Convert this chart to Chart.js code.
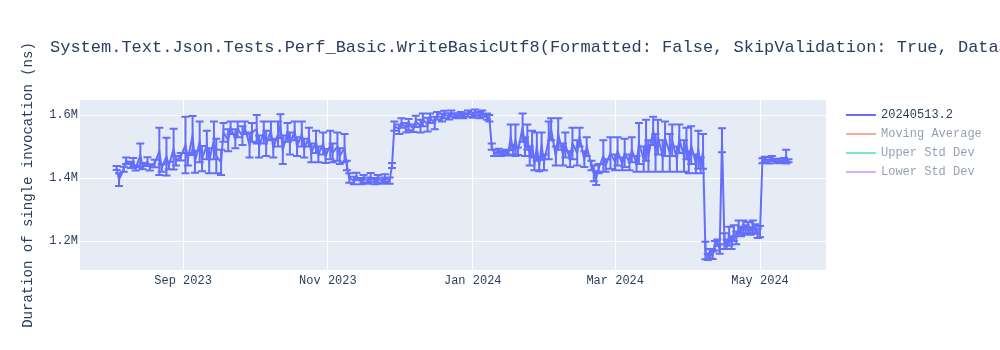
<!DOCTYPE html>
<html>
<head>
<meta charset="utf-8">
<title>WriteBasicUtf8</title>
<script src="https://cdn.jsdelivr.net/npm/chart.js@4.4.1/dist/chart.umd.min.js"></script>
<style>
  html, body { margin: 0; padding: 0; background: #fff; }
  #wrap { width: 1000px; height: 350px; }
</style>
</head>
<body>
<div id="wrap"><canvas id="chart" width="1000" height="350"></canvas></div>
<script>
const chartTitle = 'System.Text.Json.Tests.Perf_Basic.WriteBasicUtf8(Formatted: False, SkipValidation: True, DataSize: 100000)';
const yAxisTitle = 'Duration of single invocation (ns)';
const seriesName = '20240513.2';
const hiddenSeries = ['Moving Average', 'Upper Std Dev', 'Lower Std Dev'];
const hiddenColors = ['rgba(239,85,59,0.5)', 'rgba(0,204,150,0.5)', 'rgba(171,99,250,0.5)'];

// run dates, grouped by month
const dates = [
  // aug 2023
  '2023-08-04','2023-08-05','2023-08-07','2023-08-08','2023-08-10','2023-08-11','2023-08-12','2023-08-14','2023-08-15','2023-08-17',
  '2023-08-18','2023-08-20','2023-08-22','2023-08-23','2023-08-25','2023-08-26','2023-08-28','2023-08-29','2023-08-31',
  // sep
  '2023-09-02','2023-09-03','2023-09-05','2023-09-06','2023-09-08','2023-09-09','2023-09-11','2023-09-12','2023-09-14','2023-09-15',
  '2023-09-17','2023-09-18','2023-09-20','2023-09-21','2023-09-23','2023-09-24','2023-09-26','2023-09-27','2023-09-29','2023-09-30',
  // oct
  '2023-10-02','2023-10-03','2023-10-05','2023-10-06','2023-10-08','2023-10-09','2023-10-11','2023-10-12','2023-10-13','2023-10-15',
  '2023-10-16','2023-10-18','2023-10-19','2023-10-21','2023-10-22','2023-10-24','2023-10-25','2023-10-27','2023-10-28','2023-10-30','2023-10-31',
  // nov
  '2023-11-02','2023-11-03','2023-11-05','2023-11-06','2023-11-08','2023-11-09','2023-11-10','2023-11-12','2023-11-13','2023-11-15',
  '2023-11-16','2023-11-18','2023-11-19','2023-11-21','2023-11-22','2023-11-24','2023-11-25','2023-11-27','2023-11-28','2023-11-29',
  // dec
  '2023-12-01','2023-12-02','2023-12-04','2023-12-05','2023-12-07','2023-12-08','2023-12-10','2023-12-11','2023-12-13','2023-12-14',
  '2023-12-16','2023-12-17','2023-12-19','2023-12-20','2023-12-22','2023-12-23','2023-12-25','2023-12-27','2023-12-28','2023-12-30',
  // jan 2024
  '2024-01-01','2024-01-02','2024-01-04','2024-01-05','2024-01-07','2024-01-08','2024-01-09','2024-01-10','2024-01-12','2024-01-13',
  '2024-01-15','2024-01-16','2024-01-17','2024-01-18','2024-01-19','2024-01-20','2024-01-22','2024-01-23','2024-01-24','2024-01-25',
  '2024-01-26','2024-01-27','2024-01-28','2024-01-29','2024-01-30','2024-01-31',
  // feb
  '2024-02-02','2024-02-03','2024-02-05','2024-02-06','2024-02-08','2024-02-09','2024-02-11','2024-02-12','2024-02-14','2024-02-15',
  '2024-02-17','2024-02-18','2024-02-20','2024-02-21','2024-02-22','2024-02-23','2024-02-25','2024-02-26','2024-02-28',
  // mar
  '2024-03-01','2024-03-02','2024-03-04','2024-03-05','2024-03-07','2024-03-08','2024-03-10','2024-03-11','2024-03-13','2024-03-14',
  '2024-03-15','2024-03-17','2024-03-18','2024-03-19','2024-03-21','2024-03-22','2024-03-24','2024-03-25','2024-03-27','2024-03-28',
  '2024-03-30','2024-03-31',
  // apr
  '2024-04-01','2024-04-02','2024-04-04','2024-04-05','2024-04-06','2024-04-07','2024-04-08','2024-04-09','2024-04-10','2024-04-11',
  '2024-04-12','2024-04-13','2024-04-14','2024-04-15','2024-04-16','2024-04-17','2024-04-18','2024-04-19','2024-04-20','2024-04-21',
  '2024-04-22','2024-04-23','2024-04-24','2024-04-25','2024-04-26','2024-04-27','2024-04-28','2024-04-29','2024-04-30',
  // may
  '2024-05-01','2024-05-02','2024-05-03','2024-05-05','2024-05-06','2024-05-08','2024-05-09','2024-05-11','2024-05-12','2024-05-13'
];

// mean duration (ns)
const durations = [
  1432000,1395000,1428000,1455000,1442000,1450000,1432000,1472000,1438000,1452000,
  1434000,1446000,1485000,1432000,1468000,1440000,1492000,1455000,1468000,
  1505000,1460000,1535000,1452000,1515000,1462000,1505000,1455000,1520000,1470000,
  1450000,1545000,1520000,1560000,1525000,1555000,1535000,1560000,1505000,1545000,
  1555000,1500000,1545000,1510000,1550000,1495000,1540000,1565000,1490000,1545000,
  1510000,1550000,1500000,1540000,1495000,1530000,1480000,1515000,1475000,1510000,1470000,
  1505000,1480000,1500000,1470000,1495000,1440000,1400000,1392000,1405000,1390000,
  1398000,1392000,1402000,1390000,1398000,1392000,1400000,1392000,1440000,1565000,
  1555000,1575000,1560000,1570000,1558000,1580000,1565000,1585000,1570000,1590000,
  1575000,1598000,1592000,1602000,1596000,1605000,1598000,1602000,1598000,1605000,
  1600000,1608000,1600000,1605000,1595000,1590000,1500000,1480000,1485000,1478000,
  1482000,1480000,1530000,1490000,1520000,1485000,1560000,1500000,1530000,1470000,
  1510000,1445000,1500000,1440000,1505000,1450000,
  1520000,1555000,1470000,1540000,1475000,1505000,1460000,1510000,1480000,1530000,
  1460000,1500000,1440000,1415000,1400000,1430000,1470000,1440000,1480000,
  1450000,1485000,1445000,1480000,1450000,1490000,1445000,1510000,1460000,1520000,
  1470000,1550000,1480000,1530000,1470000,1525000,1480000,1520000,1460000,1525000,
  1470000,1510000,
  1450000,1505000,1445000,1490000,1440000,1485000,1170000,1150000,1160000,1155000,
  1185000,1195000,1175000,1520000,1200000,1190000,1215000,1195000,1225000,1210000,
  1240000,1230000,1245000,1235000,1240000,1232000,1245000,1238000,1225000,
  1230000,1455000,1460000,1456000,1462000,1455000,1452000,1458000,1468000,1455000
];

// error bar half-height (ns)
const stdErrors = [
  6000,20000,8000,10000,10000,14000,8000,38000,10000,14000,
  10000,12000,75000,12000,60000,12000,65000,15000,12000,
  90000,20000,62000,35000,65000,40000,45000,40000,60000,55000,
  40000,30000,35000,20000,30000,25000,30000,20000,40000,30000,
  45000,35000,35000,40000,30000,30000,40000,38000,45000,30000,
  35000,30000,30000,40000,30000,30000,30000,35000,25000,35000,22000,
  45000,30000,45000,25000,45000,15000,15000,12000,12000,10000,
  12000,10000,14000,10000,12000,10000,12000,10000,8000,15000,
  15000,15000,15000,18000,12000,18000,20000,20000,22000,15000,
  20000,12000,12000,12000,10000,10000,8000,8000,8000,10000,
  8000,10000,10000,10000,10000,10000,10000,10000,8000,8000,
  8000,8000,40000,15000,50000,12000,45000,30000,40000,30000,
  40000,20000,45000,18000,40000,25000,
  60000,35000,30000,50000,35000,40000,25000,50000,40000,30000,
  25000,30000,15000,25000,22000,15000,50000,20000,50000,
  25000,45000,20000,45000,25000,40000,25000,65000,40000,65000,
  50000,45000,60000,55000,50000,55000,60000,50000,40000,45000,
  50000,50000,
  35000,60000,30000,60000,25000,55000,28000,10000,15000,12000,
  15000,10000,15000,38000,25000,15000,30000,20000,25000,20000,
  25000,15000,20000,15000,20000,12000,20000,15000,15000,
  18000,8000,8000,10000,8000,6000,5000,6000,22000,5000
];

const xMinDate = '2023-07-19T14:00:00Z';
const xMaxDate = '2024-05-28T19:00:00Z';
const xTickDates = ['2023-09-01', '2023-11-01', '2024-01-01', '2024-03-01', '2024-05-01'];
const xTickLabels = ['Sep 2023', 'Nov 2023', 'Jan 2024', 'Mar 2024', 'May 2024'];
const yMin = 1108000;
const yMax = 1648000;
const yTickValues = [1200000, 1400000, 1600000];
const yTickLabels = ['1.2M', '1.4M', '1.6M'];

const FONT = '"Liberation Mono", "Courier New", monospace';
const TEXT = '#2a3f5f';
const LINE = '#636efa';

function toTime(d) {
  return Date.parse(d.length === 10 ? d + 'T00:00:00Z' : d);
}

// plot background like plotly
const plotBg = {
  id: 'plotBg',
  beforeDraw(chart) {
    const { ctx, chartArea: a } = chart;
    ctx.save();
    ctx.fillStyle = '#e5ecf6';
    ctx.fillRect(a.left, a.top, a.width, a.height);
    ctx.restore();
  }
};

// vertical error bars with caps
const errorBars = {
  id: 'errorBars',
  beforeDatasetsDraw(chart) {
    const { ctx, chartArea: a, scales: { x, y } } = chart;
    ctx.save();
    ctx.beginPath();
    ctx.rect(a.left, a.top, a.width, a.height);
    ctx.clip();
    ctx.strokeStyle = LINE;
    ctx.lineWidth = 2;
    ctx.beginPath();
    dates.forEach((d, i) => {
      const px = x.getPixelForValue(toTime(d));
      const top = y.getPixelForValue(durations[i] + stdErrors[i]);
      const bot = y.getPixelForValue(durations[i] - stdErrors[i]);
      ctx.moveTo(px, top); ctx.lineTo(px, bot);
      ctx.moveTo(px - 4, top); ctx.lineTo(px + 4, top);
      ctx.moveTo(px - 4, bot); ctx.lineTo(px + 4, bot);
    });
    ctx.stroke();
    ctx.restore();
  }
};

// title + legend drawn plotly style
const titleLegend = {
  id: 'titleLegend',
  afterDraw(chart) {
    const ctx = chart.ctx;
    ctx.save();
    ctx.textBaseline = 'middle';
    ctx.textAlign = 'left';
    ctx.fillStyle = TEXT;
    ctx.font = '17px ' + FONT;
    ctx.fillText(chartTitle, 50, 47);

    const names = [seriesName].concat(hiddenSeries);
    const colors = [LINE].concat(hiddenColors);
    ctx.font = '12px ' + FONT;
    ctx.lineWidth = 2;
    names.forEach((n, i) => {
      const yy = 115 + i * 19;
      ctx.strokeStyle = colors[i];
      ctx.beginPath();
      ctx.moveTo(846, yy);
      ctx.lineTo(876, yy);
      ctx.stroke();
      ctx.fillStyle = i === 0 ? TEXT : 'rgba(42,63,95,0.5)';
      ctx.fillText(n, 881, yy);
    });
    ctx.restore();
  }
};

const points = dates.map((d, i) => ({ x: toTime(d), y: durations[i] }));

new Chart(document.getElementById('chart'), {
  type: 'line',
  data: {
    datasets: [{
      label: seriesName,
      data: points,
      borderColor: LINE,
      borderWidth: 2,
      pointRadius: 0,
      tension: 0,
      fill: false
    }]
  },
  options: {
    responsive: false,
    animation: false,
    devicePixelRatio: 1,
    layout: { padding: { left: 0, top: 100, right: 174, bottom: 50 } },
    plugins: {
      legend: { display: false },
      tooltip: { enabled: false }
    },
    scales: {
      x: {
        type: 'linear',
        min: toTime(xMinDate),
        max: toTime(xMaxDate),
        afterBuildTicks: s => { s.ticks = xTickDates.map(d => ({ value: toTime(d) })); },
        afterFit: s => { s.height = 30; },
        ticks: {
          callback: (v, i) => xTickLabels[i],
          autoSkip: false,
          maxRotation: 0,
          padding: 4,
          color: TEXT,
          font: { family: FONT, size: 12 }
        },
        grid: { color: '#ffffff', lineWidth: 1, drawTicks: false },
        border: { display: false }
      },
      y: {
        min: yMin,
        max: yMax,
        afterBuildTicks: s => { s.ticks = yTickValues.map(v => ({ value: v })); },
        afterFit: s => { s.width = 80; },
        ticks: {
          callback: (v, i) => yTickLabels[i],
          padding: 2,
          color: TEXT,
          font: { family: FONT, size: 12 }
        },
        grid: { color: '#ffffff', lineWidth: 1, drawTicks: false },
        border: { display: false },
        title: {
          display: true,
          text: yAxisTitle,
          color: TEXT,
          font: { family: FONT, size: 14 },
          padding: { top: 20, bottom: 0 }
        }
      }
    }
  },
  plugins: [plotBg, errorBars, titleLegend]
});
</script>
</body>
</html>
